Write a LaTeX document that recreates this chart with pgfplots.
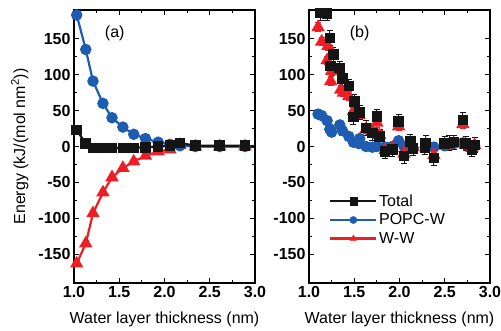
\documentclass[border=0pt]{standalone}
\usepackage{pgfplots}
\pgfplotsset{compat=1.18}
\usepackage{fontspec}
\setmainfont{Liberation Sans}

\definecolor{cTot}{RGB}{20,20,20}
\definecolor{cPop}{RGB}{30,92,178}
\definecolor{cWW}{RGB}{238,30,36}

\pgfplotsset{
  panel/.style={
    scale only axis, width=181pt, height=273pt,
    xmin=1, xmax=3, ymin=-190, ymax=190,
    xtick={1,1.5,...,3}, ytick={-150,-100,...,150},
    minor x tick num=1, minor y tick num=1,
    major tick length=5pt, minor tick length=3pt,
    axis line style={line width=1.3pt},
    every tick/.style={line width=1.1pt, black},
    tick label style={font=\fontsize{16}{16}\selectfont\bfseries},
    /pgf/number format/assume math mode=true,
    xticklabel style={/pgf/number format/.cd, fixed, fixed zerofill, precision=1},
    label style={font=\fontsize{16}{18}\selectfont},
    xlabel={Water layer thickness (nm)},
    xlabel style={at={(axis description cs:0.5,-0.135)}, anchor=center},
    error bars/y dir=both, error bars/y explicit,
  },
  errst/.style={error bars/error bar style={line width=0.9pt, #1},
    error bars/error mark options={rotate=90, mark size=3pt, line width=0.9pt, #1}},
  sTot/.style={cTot, line width=2.2pt, mark=square*, mark size=4.2pt, mark options={solid, fill=cTot}, errst=cTot},
  sPop/.style={cPop, line width=2.2pt, mark=*, mark size=4.6pt, mark options={solid, fill=cPop}, errst=cPop},
  sWW/.style={cWW, line width=2.2pt, mark=triangle*, mark size=5.6pt, mark options={solid, fill=cWW}, errst=cWW},
}

\begin{document}
\begin{tikzpicture}
\path[use as bounding box] (0pt,0pt) rectangle (501pt,331pt);

% (a) fitted energies
\begin{axis}[panel, at={(74pt,48pt)}, anchor=south west,
  ylabel={Energy (kJ/(mol nm\textsuperscript{2}))},
  ylabel style={at={(axis description cs:-0.30,0.5)}, anchor=center}]
\addplot[sWW] table[y error=e] {
x y e
1.03 -163 4
1.13 -135 4
1.21 -93 4
1.32 -64 4
1.42 -43 4
1.54 -30 4
1.66 -21 4
1.79 -13 4
1.93 -7 4
2.06 -4 4
2.17 2 4
2.34 0 4
2.61 0 4
2.89 0 4
};
\addplot[cWW, line width=2.2pt] coordinates {(2.89,0) (3.0,0)};
\addplot[sPop] table[y error=e] {
x y e
1.03 183 2
1.13 135 2
1.21 91 2
1.32 60 2
1.42 40 2
1.54 27 2
1.66 17 2
1.79 11 2
1.93 6 2
2.06 3 2
2.17 1 2
2.34 0 2
2.61 0 2
2.89 0 2
};
\addplot[cPop, line width=2.2pt] coordinates {(2.89,0) (3.0,0)};
\addplot[sTot] table[y error=e] {
x y e
1.03 23 2
1.13 4 2
1.21 -2 2
1.32 -2 3
1.42 -2 3
1.54 -2 3
1.66 -2 3
1.79 -1 4
1.93 0 4
2.06 1 4
2.17 5 6
2.34 1 5
2.61 1 5
2.89 1 5
};
\addplot[cTot, line width=2.2pt] coordinates {(2.89,0) (3.0,0)};
\node[font=\fontsize{16}{18}\selectfont] at (axis cs:1.45,158) {(a)};
\end{axis}

% (b) per-configuration energies
\begin{axis}[panel, at={(309pt,48pt)}, anchor=south west,
  legend style={draw=none, fill=none, at={(axis description cs:0.11,0.33)}, anchor=north west,
    font=\fontsize{16}{18}\selectfont, row sep=3pt, inner sep=0pt,
    nodes={inner sep=1.5pt}},
  legend cell align=left,
  legend image code/.code={
    \draw[#1, line width=2.5pt] (0pt,0pt) -- (46pt,0pt);
    \draw[#1, mark size=3.6pt] plot coordinates {(23pt,0pt)};
  }]
\addlegendimage{cTot, mark=square*, mark options={fill=cTot}}
\addlegendentry{Total}
\addlegendimage{cPop, mark=*, mark options={fill=cPop}}
\addlegendentry{POPC-W}
\addlegendimage{cWW, mark=triangle*, mark size=4.6pt, mark options={fill=cWW}}
\addlegendentry{W-W}

\addplot[sPop, only marks, forget plot] table[y error=e] {
x y e
1.10 45 6
1.14 43 6
1.20 36 6
1.23 24 6
1.25 20 6
1.34 30 6
1.37 22 6
1.44 14 6
1.49 6 6
1.55 4 6
1.56 11 6
1.63 0 6
1.70 -1 6
1.75 0 6
1.84 -1 6
1.92 0 6
1.99 8 6
2.05 0 6
2.12 3 6
2.15 -2 6
2.29 4 6
2.38 -1 6
2.50 1 6
2.55 3 6
2.60 4 6
2.70 5 6
2.73 4 6
2.80 1 6
2.83 1 6
};
\addplot[sWW, only marks, forget plot] table[y error=e] {
x y e
1.10 166 6
1.14 146 6
1.21 140 6
1.20 120 6
1.24 91 6
1.25 105 6
1.35 79 6
1.38 75 6
1.44 70 6
1.49 49 6
1.55 44 6
1.63 24 6
1.69 22 6
1.75 33 6
1.78 16 6
1.84 -5 6
1.92 -2 6
1.99 28 6
2.05 -10 6
2.12 5 6
2.15 -1 6
2.29 3 6
2.38 -12 6
2.50 1 6
2.55 3 6
2.60 4 6
2.70 31 6
2.73 2 6
2.80 -2 6
2.83 2 6
};
\addplot[sTot, only marks, forget plot] table[y error=e] {
x y e
1.13 186 10
1.20 185 10
1.23 151 10
1.24 112 10
1.27 128 10
1.34 109 10
1.37 95 10
1.44 84 10
1.50 63 10
1.49 41 10
1.56 47 10
1.63 26 10
1.70 19 10
1.75 42 10
1.78 14 10
1.84 -7 10
1.92 -4 10
1.99 35 10
2.05 -13 10
2.12 7 10
2.15 -3 10
2.28 -1 10
2.29 5 10
2.38 -16 10
2.50 4 10
2.55 5 10
2.60 6 10
2.70 37 10
2.73 4 10
2.80 -4 10
2.83 2 10
};
\node[font=\fontsize{16}{18}\selectfont] at (axis cs:1.56,158) {(b)};
\end{axis}
\end{tikzpicture}
\end{document}
